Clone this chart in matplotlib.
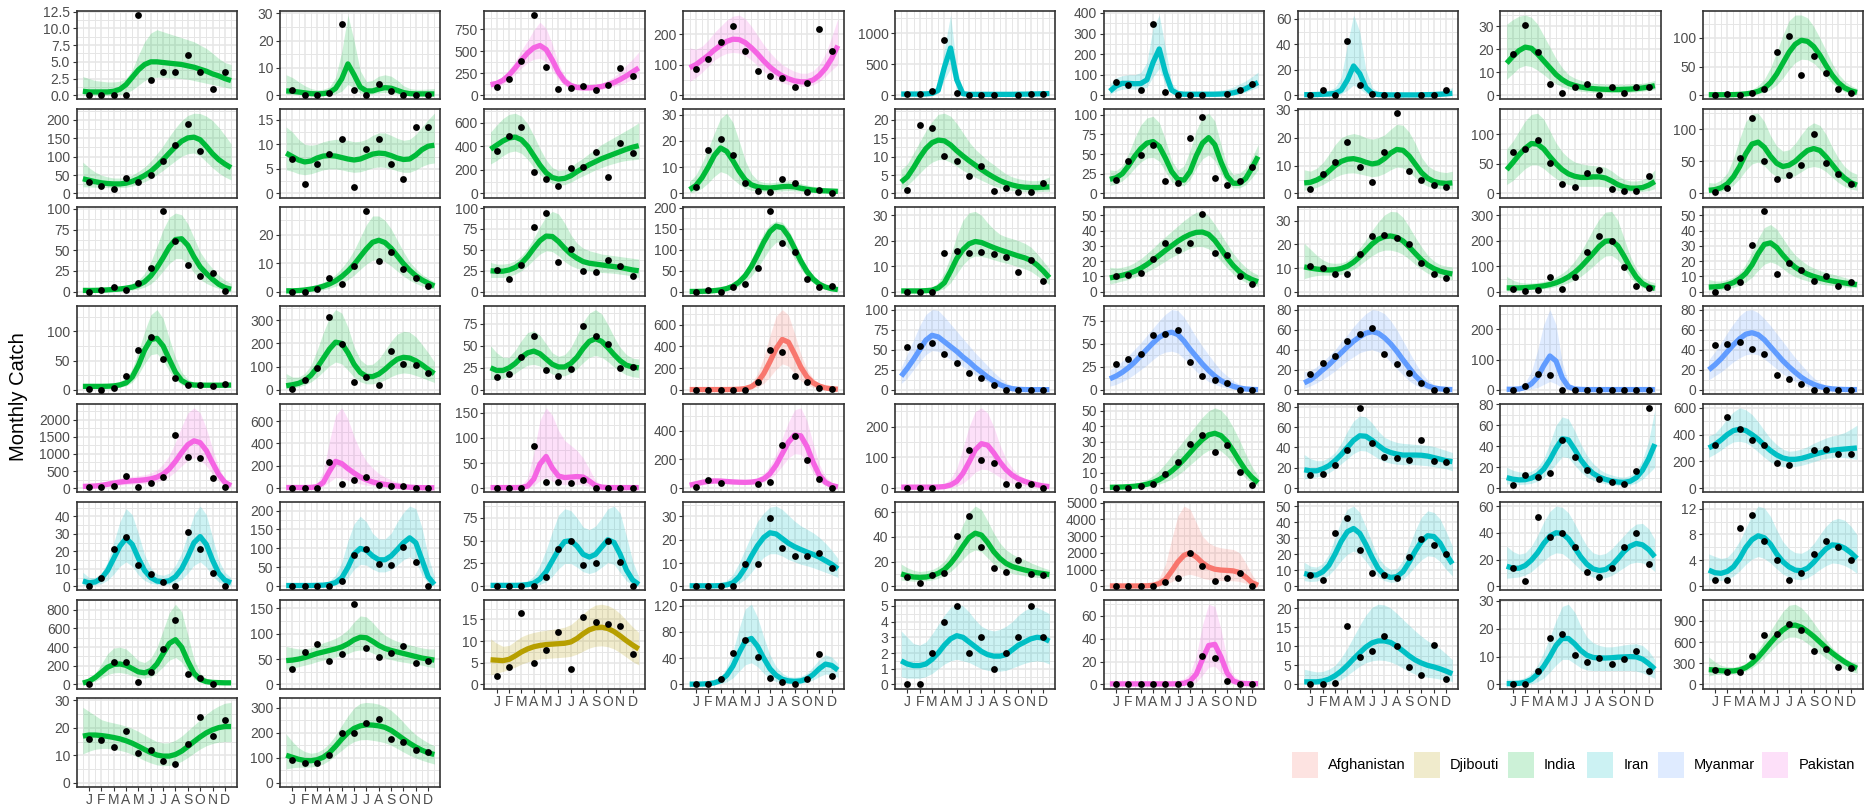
import numpy as np
import matplotlib
matplotlib.use("Agg")
import matplotlib.pyplot as plt
from matplotlib.patches import Rectangle

nan = float("nan")

month_labels = ["J", "F", "M", "A", "M", "J", "J", "A", "S", "O", "N", "D"]
countries = ["Afghanistan", "Djibouti", "India", "Iran", "Myanmar", "Pakistan"]
country_colors = ["#F8766D", "#B79F00", "#00BA38", "#00BFC4", "#619CFF", "#F564E3"]

panel_country = [
    "India", "India", "Pakistan", "Pakistan", "Iran", "Iran", "Iran", "India", "India",
    "India", "India", "India", "India", "India", "India", "India", "India", "India",
    "India", "India", "India", "India", "India", "India", "India", "India", "India",
    "India", "India", "India", "Afghanistan", "Myanmar", "Myanmar", "Myanmar", "Myanmar", "Myanmar",
    "Pakistan", "Pakistan", "Pakistan", "Pakistan", "Pakistan", "India", "Iran", "Iran", "Iran",
    "Iran", "Iran", "Iran", "Iran", "India", "Afghanistan", "Iran", "Iran", "Iran",
    "India", "India", "Djibouti", "Iran", "Iran", "Pakistan", "Iran", "Iran", "India",
    "India", "India",
]
panel_y_step = [
    2.5, 10, 250, 100, 500, 100, 20, 10, 50,
    50, 5, 200, 10, 5, 25, 10, 50, 50,
    25, 10, 25, 50, 10, 10, 10, 100, 10,
    50, 100, 25, 200, 25, 25, 20, 100, 20,
    500, 200, 50, 200, 100, 10, 20, 20, 200,
    10, 50, 25, 10, 20, 1000, 10, 20, 4,
    200, 50, 5, 40, 1, 20, 5, 10, 300,
    10, 100,
]

# monthly observations (12), fitted curve at half months 0.5..12.5 (25), ribbon low/high (25)
p01_pts = [0, 0, 0, 0, 12, 2.3, 3.5, 3.5, 6, 3.5, 1, 3.5]
p01_fit = [0.6, 0.5, 0.5, 0.5, 0.5, 0.6, 0.9, 1.6, 2.7, 3.8, 4.6, 5.0, 5.0, 4.9, 4.8, 4.7, 4.6, 4.4, 4.2, 3.9, 3.6, 3.2, 2.9, 2.5, 2.2]
p01_lo = [0, 0, 0, 0, 0, 0, 0.1, 0.3, 0.8, 1.5, 2.2, 2.6, 2.7, 2.7, 2.6, 2.6, 2.5, 2.4, 2.2, 2.0, 1.8, 1.6, 1.4, 1.2, 1.0]
p01_hi = [2.8, 2.5, 2.2, 2.1, 2.0, 2.0, 2.1, 2.5, 3.8, 6.0, 8.0, 9.3, 9.8, 9.5, 9.2, 8.9, 8.6, 8.3, 8.0, 7.5, 7.0, 6.3, 5.5, 4.9, 4.6]

p02_pts = [2, 0, 0, 1, 26, 2, 0, 4, 1.7, 0, 0, 0]
p02_fit = [1.6, 1.5, 1.2, 0.9, 0.6, 0.5, 0.6, 1.0, 2.5, 6.0, 11.5, 7.5, 3.0, 1.6, 1.6, 2.3, 2.8, 2.6, 1.8, 1.0, 0.6, 0.5, 0.5, 0.5, 0.5]
p02_lo = [0.3, 0.3, 0.2, 0.1, 0.1, 0.1, 0.1, 0.2, 0.5, 1.5, 4.0, 2.5, 0.8, 0.4, 0.5, 0.9, 1.0, 0.9, 0.5, 0.2, 0.1, 0.1, 0.1, 0.1, 0.1]
p02_hi = [7.5, 6.5, 5.0, 3.5, 2.5, 2.0, 2.2, 3.0, 6.5, 16.0, 29.4, 20.0, 9.0, 5.0, 5.5, 7.0, 7.5, 7.0, 5.5, 3.5, 2.5, 2.2, 2.2, 2.3, 2.5]

p03_pts = [94, 180, 394, 911, 322, 75, 79, 109, 60, 116, 307, 217]
p03_fit = [120, 135, 170, 230, 310, 400, 480, 540, 565, 520, 400, 260, 160, 110, 90, 85, 85, 90, 100, 120, 145, 180, 220, 265, 310]
p03_lo = [80, 95, 125, 175, 240, 310, 370, 410, 420, 380, 280, 180, 110, 75, 60, 55, 55, 60, 70, 85, 100, 120, 150, 180, 200]
p03_hi = [160, 170, 210, 290, 390, 510, 620, 740, 830, 760, 580, 360, 220, 150, 125, 120, 120, 125, 140, 170, 210, 270, 340, 410, 490]

p04_pts = [86, 117, 174, 226, 145, 78, 64, 55, 27, 41, 216, 145]
p04_fit = [90, 100, 115, 130, 148, 163, 176, 183, 182, 172, 155, 135, 112, 92, 76, 63, 54, 47, 44, 44, 50, 65, 88, 120, 162]
p04_lo = [45, 58, 75, 95, 115, 128, 137, 140, 138, 130, 115, 97, 78, 62, 50, 41, 35, 31, 29, 29, 34, 45, 62, 82, 100]
p04_hi = [155, 150, 160, 180, 205, 225, 245, 258, 262, 250, 225, 195, 165, 140, 118, 100, 88, 78, 72, 72, 80, 100, 135, 190, 250]

p05_pts = [16, 16, 69, 883, 43, 0, 0, 0, nan, 0, 16, 27]
p05_fit = [20, 20, 20, 20, 22, 30, 80, 450, 760, 250, 25, 15, 15, 15, 15, 15, 15, 15, 15, 17, 18, 20, 22, 25, 28]
p05_lo = [5, 5, 5, 5, 6, 8, 30, 250, 430, 110, 8, 4, 4, 4, 4, 4, 4, 4, 4, 5, 5, 6, 7, 8, 10]
p05_hi = [50, 45, 42, 42, 45, 60, 150, 750, 1290, 450, 60, 40, 38, 38, 38, 38, 38, 40, 42, 45, 48, 50, 55, 60, 65]

p06_pts = [66, 51, 24, 346, 14, 0, 0, 0, nan, 8, 25, 54]
p06_fit = [20, 45, 58, 58, 56, 57, 75, 160, 225, 110, 25, 8, 5, 5, 5, 5, 5, 5, 6, 8, 12, 20, 32, 48, 62]
p06_lo = [5, 20, 30, 32, 30, 30, 40, 90, 130, 50, 8, 1, 0, 0, 0, 0, 0, 0, 0, 1, 3, 8, 15, 28, 38]
p06_hi = [55, 85, 95, 100, 100, 110, 160, 330, 390, 230, 60, 25, 20, 20, 20, 20, 20, 22, 25, 30, 40, 55, 70, 90, 112]

p07_pts = [0, 4, 0, 42.6, 8.4, 1.3, 0, 0, nan, 0, 0, 4.2]
p07_fit = [0.5, 0.5, 0.6, 0.8, 1.0, 1.5, 4, 12, 23, 17, 6, 1.5, 0.6, 0.4, 0.3, 0.3, 0.3, 0.3, 0.3, 0.4, 0.5, 0.6, 0.8, 1.1, 1.5]
p07_lo = [0, 0, 0, 0, 0, 0.2, 1, 4, 8, 5, 1.5, 0.3, 0, 0, 0, 0, 0, 0, 0, 0, 0, 0, 0.1, 0.2, 0.3]
p07_hi = [3, 2.5, 2.5, 3, 4, 6, 14, 40, 63, 50, 20, 6, 3, 2, 2, 2, 2, 2, 2, 2, 2.5, 3, 3.5, 4.5, 6]

p08_pts = [18, 30.5, 19, 5, 1.2, 3.6, 5, 0, 3.6, 1.2, 3.6, 3.7]
p08_fit = [14, 17, 19.5, 21, 20.5, 18, 15, 12, 9, 6.8, 5.2, 4.3, 3.6, 3.2, 2.9, 2.7, 2.6, 2.5, 2.5, 2.6, 2.7, 2.9, 3.2, 3.6, 4.2]
p08_lo = [7, 9.5, 12, 13, 12.5, 11, 9, 6.8, 5, 3.7, 2.8, 2.2, 1.8, 1.5, 1.3, 1.2, 1.1, 1.1, 1.1, 1.2, 1.3, 1.5, 1.8, 2.1, 2.5]
p08_hi = [31, 33, 34.5, 35, 34, 31, 26, 21, 16, 12, 9, 7.5, 6.5, 5.8, 5.3, 5, 4.8, 4.7, 4.7, 4.7, 4.8, 5, 5.3, 5.8, 6.5]

p09_pts = [0, 1.5, 0, 4, 11.7, 75, 104, 35, 69, 38.6, 11.7, 4.7]
p09_fit = [1, 1, 1, 1, 1.2, 1.6, 2.5, 4, 7, 12, 22, 37, 56, 75, 89, 96, 94, 85, 70, 52, 35, 22, 13, 8, 5]
p09_lo = [0, 0, 0, 0, 0.1, 0.3, 0.7, 1.3, 2.5, 5, 10, 18, 30, 45, 57, 63, 62, 56, 45, 33, 21, 12, 6, 3, 1.5]
p09_hi = [5, 4, 3.5, 3.5, 4, 5, 7, 10, 17, 28, 48, 75, 105, 130, 140, 140, 135, 120, 100, 78, 55, 37, 25, 17, 12]

p10_pts = [31, 20.4, 13, 42.7, 31, 50.7, 88, 133, 187.6, 115.6, nan, nan]
p10_fit = [40, 36, 32, 29, 27, 26, 26, 28, 33, 40, 49, 60, 75, 92, 110, 127, 142, 151, 153, 146, 128, 108, 92, 80, 70]
p10_lo = [18, 18, 17, 17, 16, 16, 16, 17, 20, 25, 32, 40, 51, 63, 76, 89, 101, 108, 110, 102, 86, 70, 56, 45, 37]
p10_hi = [85, 70, 58, 50, 45, 42, 42, 44, 50, 60, 72, 88, 108, 130, 155, 178, 198, 212, 218, 217, 210, 198, 180, 158, 135]

p11_pts = [7, 2, 6, 8, 11, 1.3, 9, 11, 6, 3, 13.5, 13.5]
p11_fit = [8.2, 7.5, 6.8, 6.4, 6.6, 7.2, 7.6, 7.7, 7.6, 7.3, 7.0, 6.8, 7.0, 7.5, 8.0, 8.2, 8.1, 7.7, 7.2, 6.9, 7.0, 7.8, 8.9, 9.6, 9.8]
p11_lo = [4.8, 4.5, 4, 3.8, 4, 4.4, 4.8, 5, 5, 4.8, 4.5, 4.3, 4.4, 4.8, 5.2, 5.4, 5.3, 5.0, 4.6, 4.3, 4.3, 4.8, 5.5, 6, 6.2]
p11_hi = [13.5, 12.5, 11, 10, 9.8, 10, 10.5, 10.8, 11, 11, 10.8, 10.5, 10.6, 11, 11.8, 12.3, 12.3, 11.8, 11.2, 10.8, 11, 12, 13.5, 15, 16.3]

p12_pts = [360, 486, 564, 184, 120, 61, 215, 223, 349, 140, 430, 344]
p12_fit = [375, 410, 445, 470, 478, 455, 400, 320, 240, 175, 135, 122, 128, 150, 185, 215, 245, 270, 295, 315, 335, 355, 375, 392, 405]
p12_lo = [250, 280, 320, 350, 360, 340, 290, 220, 160, 115, 85, 70, 75, 95, 125, 150, 175, 200, 220, 240, 255, 270, 280, 285, 290]
p12_hi = [520, 580, 635, 670, 680, 655, 590, 490, 380, 285, 220, 195, 200, 225, 265, 300, 340, 375, 415, 445, 475, 505, 535, 565, 600]

p13_pts = [2.5, 16.5, 20.6, 14.5, 4, 1, 0.6, 5.5, 4, 0.5, 1.3, 0]
p13_fit = [1.5, 3, 6, 10, 14.5, 17.3, 16, 12.5, 8.5, 5.2, 3.3, 2.5, 2.2, 2.1, 2.3, 2.6, 2.7, 2.5, 2.0, 1.6, 1.3, 1.1, 1.0, 0.9, 0.8]
p13_lo = [0.3, 0.8, 2, 4, 6.5, 8.3, 7.5, 5.5, 3.5, 2, 1.2, 0.9, 0.8, 0.8, 0.9, 1, 1.1, 1, 0.8, 0.6, 0.5, 0.4, 0.3, 0.3, 0.3]
p13_hi = [4.5, 7, 11.5, 17, 23, 28.5, 30.5, 27, 20, 12.5, 7.5, 5, 4.2, 4, 4.3, 4.7, 4.8, 4.5, 3.8, 3.2, 2.7, 2.3, 2.1, 2.0, 2.0]

p14_pts = [1, 18.6, 17.9, 10.3, 8.7, 4.7, 7.6, 0.7, 1.6, 0.5, 0.3, 2.9]
p14_fit = [3.1, 4.5, 7, 9.8, 12.2, 13.8, 14.5, 14.3, 13.2, 11.6, 10.2, 8.9, 7.7, 6.5, 5.4, 4.4, 3.5, 2.8, 2.3, 1.9, 1.7, 1.6, 1.6, 1.7, 1.8]
p14_lo = [1.2, 2.2, 3.8, 5.5, 7.2, 8.5, 9.2, 9.2, 8.5, 7.4, 6.3, 5.3, 4.4, 3.6, 2.8, 2.1, 1.5, 1.1, 0.8, 0.6, 0.5, 0.5, 0.5, 0.6, 0.6]
p14_hi = [6.5, 8, 11, 14, 17, 19.5, 21.5, 21.8, 21, 19, 16.5, 14, 12, 10.5, 9, 7.8, 6.5, 5.3, 4.5, 4, 3.7, 3.5, 3.5, 3.8, 4.5]

p15_pts = [17, 41, 49, 62, 16, 13, 70.5, 96.6, 19.7, 11, 16, 33.8]
p15_fit = [18, 20, 25, 35, 47, 57, 64, 66, 60, 45, 28, 18, 17, 28, 48, 64, 71, 62, 40, 22, 13, 13, 19, 32, 47]
p15_lo = [10, 12, 16, 23, 32, 40, 45, 46, 41, 28, 15, 10, 10, 18, 32, 44, 49, 42, 25, 12, 7, 7, 11, 20, 30]
p15_hi = [30, 29, 35, 50, 70, 87, 96, 98, 90, 68, 42, 30, 35, 55, 80, 97, 102, 92, 62, 35, 24, 26, 32, 45, 62]

p16_pts = [1.5, 7.1, 11.2, 18.6, 9.6, 4, 15, 28.8, 8, 4.7, 3.1, 2.4]
p16_fit = [3.8, 4, 4.8, 6, 8, 10, 11.5, 12.3, 12.5, 12, 11.2, 10.6, 11, 12.5, 14.5, 15.8, 15.5, 13.5, 10.5, 7.5, 5.5, 4.3, 3.8, 3.6, 3.8]
p16_lo = [1.2, 1.5, 2.2, 3.2, 4.5, 5.8, 6.8, 7.3, 7.4, 7, 6.5, 6, 6.3, 7.2, 8.5, 9.5, 9.2, 7.8, 5.7, 3.8, 2.6, 2, 1.7, 1.6, 1.6]
p16_hi = [8.5, 8, 9, 11, 14, 17.5, 20, 21, 21.5, 21, 20, 19.5, 20, 21, 23, 24.8, 24.5, 22, 18, 13, 10, 8.5, 7.8, 7.5, 8]

p17_pts = [69, 74.7, 90, 51.6, 16, 11, 34.6, 39.6, 7, 5, 5, 30]
p17_fit = [40, 52, 65, 76, 84, 83, 75, 62, 50, 40, 33, 29, 27, 27, 28, 28, 26, 21, 15, 11, 9, 9, 10, 14, 20]
p17_lo = [15, 22, 32, 42, 48, 48, 42, 33, 25, 19, 15, 13, 12, 12, 12, 12, 11, 8, 5, 4, 3, 3, 3.5, 5, 8]
p17_hi = [75, 88, 105, 122, 133, 135, 125, 105, 85, 70, 60, 53, 50, 48, 47, 46, 44, 38, 30, 24, 21, 21, 23, 28, 40]

p18_pts = [3, 8, 55, 118, 51, 22, 29, 45, 92.7, 47, 30, 14.5]
p18_fit = [5, 6, 9, 15, 26, 42, 62, 77, 80, 72, 58, 47, 42, 44, 50, 59, 67, 70, 67, 57, 45, 33, 24, 17, 13]
p18_lo = [1, 2, 3.5, 7, 13, 23, 36, 46, 49, 43, 33, 26, 23, 24, 28, 34, 40, 42, 40, 34, 25, 17, 11, 7, 5]
p18_hi = [17, 16, 21, 32, 55, 85, 112, 124, 125, 112, 90, 74, 66, 68, 78, 92, 104, 110, 106, 92, 72, 55, 42, 34, 30]

p19_pts = [0, 2, 5.2, 2, 10, 29, 97, 61, 32, 19, 23, 1]
p19_fit = [1.5, 1.5, 1.6, 1.8, 2.2, 2.7, 3.3, 4.2, 5.5, 8, 12, 19, 29, 41, 54, 63, 64, 56, 42, 30, 22, 15, 9, 5, 3]
p19_lo = [0.2, 0.3, 0.4, 0.5, 0.6, 0.8, 1, 1.4, 2, 3.2, 5.5, 9.5, 16, 25, 34, 40, 40, 33, 23, 15, 10, 6.5, 4, 2, 0.8]
p19_hi = [5.5, 5, 4.8, 4.8, 5, 5.5, 6.5, 8, 10, 14, 22, 36, 55, 75, 90, 95, 93, 82, 65, 48, 37, 28, 20, 14, 10]

p20_pts = [0, 0, 0.9, 4.9, 2.7, 9, 28.1, 10.9, 14, 7.9, 4.9, 1.9]
p20_fit = [0.3, 0.3, 0.4, 0.6, 0.9, 1.3, 1.9, 2.7, 3.8, 5.3, 7.2, 9.5, 12.3, 15, 17.3, 18, 17.2, 15.2, 12.5, 9.8, 7.5, 5.6, 4.1, 3, 2]
p20_lo = [0, 0, 0, 0.1, 0.2, 0.4, 0.7, 1.2, 1.9, 2.9, 4.2, 5.8, 7.8, 9.7, 11, 11.3, 10.5, 9, 7.2, 5.5, 4, 2.9, 2, 1.4, 0.9]
p20_hi = [1.5, 1.3, 1.3, 1.5, 2, 2.5, 3.3, 4.5, 6, 8.3, 11, 14.5, 19, 23.5, 26.5, 26.5, 25, 22, 18, 14, 10.5, 8, 6, 4.7, 3.5]

p21_pts = [25.6, 14.8, 32, 77, 94, 36, 51, 25, 23, 38, 31, 19]
p21_fit = [25, 24.5, 24.5, 26, 29, 34, 42, 52, 61, 66.5, 66, 60, 52, 45, 40, 36, 34, 33, 32, 31, 30, 29, 27.5, 26, 25]
p21_lo = [17, 17, 17, 18.5, 21, 25, 31, 38, 45, 49, 48, 43, 36, 31, 28, 26, 25, 24, 23, 22.5, 22, 21, 20, 18.5, 17]
p21_hi = [35, 33, 33, 34, 37, 43, 52, 64, 78, 90, 96, 93, 82, 68, 58, 52, 49, 47, 45, 44, 43, 42, 41, 40, 39]

p22_pts = [0, 4.7, 0, 11.8, 17.4, 56, 191, 117, 95, 30, 11, 14]
p22_fit = [0.5, 0.6, 0.9, 1.5, 2.5, 4.3, 7.5, 13, 23, 38, 60, 88, 118, 143, 156, 152, 132, 103, 73, 48, 30, 18, 11, 7, 5]
p22_lo = [0, 0.1, 0.3, 0.6, 1.2, 2.3, 4.2, 7.5, 13, 23, 37, 56, 80, 102, 118, 117, 103, 79, 55, 35, 21, 12, 7, 4, 2.5]
p22_hi = [1.5, 1.5, 2, 3, 5, 8, 13, 21, 33, 51, 78, 110, 140, 160, 168, 165, 148, 118, 87, 60, 39, 25, 16, 11, 8]

p23_pts = [0, 0, 0, 15.1, 16, 15.1, 15.5, 14.9, 13.8, 7.8, 12.3, 4.1]
p23_fit = [0.3, 0.3, 0.3, 0.3, 0.4, 0.6, 1.5, 3.5, 8, 13, 16.5, 18.8, 19.7, 19.3, 18.3, 17.3, 16.4, 15.6, 14.8, 14, 13.3, 12.3, 10.5, 8.2, 5.5]
p23_lo = [0, 0, 0, 0, 0, 0.1, 0.4, 1.3, 3.5, 7, 10.5, 13, 14, 13.8, 13.3, 12.5, 11.8, 11.2, 10.5, 9.8, 9, 8, 6.3, 4.5, 2.8]
p23_hi = [1.2, 1.1, 1, 1, 1.2, 1.8, 3.5, 7.5, 14, 22, 28, 31, 31.5, 30, 27, 24.5, 22.5, 21.5, 20.8, 20, 19, 17.5, 15, 12, 9]

p24_pts = [10.1, 11, 12, 21.5, 32.1, 27, 32, 51, 25, 24, 10.5, 5]
p24_fit = [9, 9.8, 10.7, 11.8, 13.3, 15.3, 17.8, 20.7, 23.8, 27, 30, 33, 35.5, 37.5, 38.8, 39, 37.5, 33.5, 28, 22, 17, 13, 10, 8, 6.5]
p24_lo = [5, 6, 7, 8, 9.5, 11, 13, 15, 17.5, 20, 22.5, 24.5, 26.5, 28.5, 29.5, 29.5, 28, 24.5, 20, 15.5, 11.5, 8.5, 6.2, 4.5, 3.5]
p24_hi = [16, 15.5, 16, 17, 19, 21.5, 25, 28.5, 32.5, 36, 39.5, 43, 46.5, 49.5, 52, 52.5, 49.5, 44, 37.5, 31, 25, 20, 16, 13, 11]

p25_pts = [11, 10, 7.4, 7.4, 16.1, 23.6, 24.2, 22.6, 20, 12, 7.4, 5.7]
p25_fit = [10.5, 10, 9.6, 9.3, 9.2, 9.3, 9.8, 10.8, 12.5, 14.8, 17.5, 20.2, 22.2, 23.3, 23.6, 23, 21.5, 19, 16.2, 13.5, 11.3, 9.8, 8.7, 8, 7.5]
p25_lo = [5.5, 6.3, 6.8, 7, 7, 7, 7.3, 8.2, 9.5, 11.3, 13.3, 15.2, 16.8, 17.6, 17.6, 17, 15.8, 13.8, 11.5, 9.5, 7.8, 6.7, 6, 5.5, 5]
p25_hi = [20.5, 18, 15.5, 13.5, 12.3, 12, 12.2, 13.2, 15.5, 18.5, 22, 26, 29.5, 32.5, 34, 33.8, 31.5, 27.5, 23, 19, 15.5, 13, 11.5, 10.8, 10.5]

p26_pts = [11.6, 2.6, 7.8, 59.5, 11.6, 57, 155, 220, 199, 98, 20.7, 15.5]
p26_fit = [15, 15, 15, 16, 18, 20, 23, 28, 35, 45, 58, 75, 97, 123, 150, 178, 198, 200, 180, 140, 95, 57, 32, 19, 13]
p26_lo = [3, 5, 6.5, 8, 9, 10, 12, 15, 20, 26, 35, 46, 60, 79, 100, 122, 140, 142, 125, 92, 58, 31, 16, 8, 4]
p26_hi = [60, 45, 37, 34, 34, 36, 40, 47, 58, 72, 92, 120, 155, 200, 245, 285, 312, 315, 280, 210, 140, 90, 58, 42, 35]

p27_pts = [0, 3, 6.5, 30.6, 52.6, 11.9, 18.5, 14.2, 6.9, 10.6, 3.4, 6.5]
p27_fit = [3, 3.2, 3.6, 4.5, 6, 8.5, 12, 17.5, 25, 31, 32, 29, 24, 19.5, 16, 13.5, 11.5, 10, 8.8, 7.8, 7, 6.3, 5.7, 5.1, 4.6]
p27_lo = [0.8, 1, 1.3, 1.9, 2.8, 4.2, 6.3, 9.5, 14, 18, 19.5, 18, 15, 12, 9.8, 8.2, 7, 6, 5.2, 4.5, 4, 3.5, 3.1, 2.8, 2.5]
p27_hi = [8, 7, 7, 8, 9.5, 12.5, 18, 26, 35, 42, 44, 41, 35, 29, 24, 20.5, 17.5, 15.5, 13.8, 12.5, 11.5, 10.5, 9.3, 8, 7]

p28_pts = [2.3, 0, 2.8, 23, 68, 90, 53, 20, 8, 8, 6.8, 10.8]
p28_fit = [6, 6, 6, 6, 6.2, 6.8, 8.5, 12, 22, 42, 68, 86, 88, 75, 52, 30, 16, 10, 8.3, 8, 8, 8, 8, 8, 8.2]
p28_lo = [3, 3, 3, 3, 3.2, 3.7, 4.8, 7, 13, 26, 45, 60, 62, 50, 32, 17, 9, 5.5, 4.7, 4.6, 4.6, 4.6, 4.6, 4.6, 4.7]
p28_hi = [10, 10, 10, 10, 10.3, 11.5, 14, 20, 36, 65, 100, 128, 137, 122, 88, 55, 30, 18, 13, 12, 12, 12, 12, 12.3, 13]

p29_pts = [4, 43, 96, 314, 196, 35, 56, 20, 165, 110, 106, 71]
p29_fit = [18, 22, 28, 40, 62, 95, 135, 175, 205, 200, 160, 110, 75, 58, 57, 68, 88, 112, 132, 140, 137, 125, 108, 88, 70]
p29_lo = [5, 8, 13, 21, 34, 53, 78, 103, 120, 112, 85, 55, 35, 26, 26, 32, 43, 57, 68, 73, 70, 62, 52, 42, 32]
p29_hi = [70, 55, 55, 70, 105, 170, 245, 310, 345, 330, 270, 185, 130, 108, 110, 133, 170, 210, 240, 252, 248, 228, 195, 160, 120]

p30_pts = [15, 18, 37, 61, 22, 16, 24, 72, 61, 52, 25, 26]
p30_fit = [25, 22, 22, 25, 30, 37, 42, 44, 41, 35, 29, 26, 26, 30, 37, 47, 55, 58, 55, 48, 40, 33, 28, 26, 25]
p30_lo = [12, 12, 13, 15, 19, 24, 28, 29, 27, 22, 18, 16, 16, 19, 24, 31, 37, 39, 37, 32, 26, 21, 17, 15, 14]
p30_hi = [50, 42, 37, 37, 45, 56, 65, 67, 62, 52, 42, 38, 40, 48, 62, 77, 87, 91, 86, 74, 60, 48, 40, 36, 35]

p31_pts = [0, 0, 0, 0, 0, 73, 366, 350, 125, 73, 18, 6]
p31_fit = [3, 3, 3, 3, 3, 3, 3, 4, 6, 12, 30, 70, 150, 260, 380, 465, 440, 330, 210, 120, 65, 35, 18, 10, 6]
p31_lo = [0, 0, 0, 0, 0, 0, 0, 0.5, 1, 3, 9, 25, 60, 120, 190, 240, 220, 150, 85, 45, 22, 10, 5, 2, 1]
p31_hi = [10, 10, 10, 10, 10, 10, 11, 13, 18, 30, 65, 150, 300, 500, 680, 740, 690, 520, 330, 190, 105, 60, 35, 22, 15]

p32_pts = [53, 55, 58, 45, 33, 21, 15.4, 6.3, 0, 0, 0, 0]
p32_fit = [17, 27, 38, 50, 62, 68, 66, 60, 54, 48, 41, 35, 28, 22, 16, 11, 6.5, 3.3, 1.5, 0.7, 0.4, 0.3, 0.3, 0.3, 0.3]
p32_lo = [8, 15, 25, 35, 44, 49, 48, 43, 38, 34, 29, 24, 19, 14, 10, 6.5, 3.5, 1.5, 0.5, 0.1, 0, 0, 0, 0, 0]
p32_hi = [28, 45, 62, 80, 94, 100, 99, 91, 82, 73, 64, 55, 46, 38, 30, 22, 15, 9, 5, 3, 2, 1.5, 1.4, 1.4, 1.4]

p33_pts = [28, 33, 39, 60, 60.7, 65, 30, 15.4, 10.3, 8, 0, 0]
p33_fit = [12, 15, 19, 24, 30, 37, 44, 51, 57, 61, 62.5, 60, 53, 44, 36, 28, 21, 15, 10, 6.5, 3.8, 2, 1, 0.5, 0.3]
p33_lo = [4, 6, 9, 12.5, 17, 22, 27, 33, 38, 41, 42, 40, 34, 27, 20, 14, 9, 6, 3.5, 2, 0.8, 0.3, 0.1, 0, 0]
p33_hi = [22, 26, 31, 37, 44, 51, 59, 67, 75, 82, 87, 86, 79, 68, 57, 47, 38, 29, 21, 15, 10, 6, 3.5, 2, 1.5]

p34_pts = [15.4, 26.8, 33.7, 49, 56, 61.8, 36, 25.5, 17, 7.2, 0, 0]
p34_fit = [7, 10, 14.5, 20, 25, 31, 37, 43, 48.5, 53, 56.5, 58, 56.5, 52, 46, 38.5, 30, 22, 14, 8, 4, 2, 1, 0.5, 0.3]
p34_lo = [1.5, 4, 7, 10.5, 14.5, 19, 24, 29, 33, 37, 39, 40, 38, 34, 28, 21, 15, 9, 5, 2, 0.6, 0.1, 0, 0, 0]
p34_hi = [18, 19, 23, 28, 34, 40, 48, 55, 63, 70, 76, 80, 79, 76, 69, 60, 49, 38, 27, 17, 10, 5, 2.8, 2, 1.5]

p35_pts = [0, 12.4, 51, 50, 0, 0, 0, 0, 0, 0, 0, 0]
p35_fit = [2, 2, 3, 8, 20, 42, 80, 112, 95, 40, 10, 3, 1.5, 1, 1, 1, 1, 1, 1, 1, 1, 1, 1, 1, 1]
p35_lo = [0, 0, 0, 1, 3, 8, 18, 28, 20, 6, 1, 0, 0, 0, 0, 0, 0, 0, 0, 0, 0, 0, 0, 0, 0]
p35_hi = [12, 10, 12, 25, 60, 130, 215, 265, 215, 90, 25, 10, 8, 8, 8, 8, 8, 8, 8, 8, 8, 8, 8, 8, 8]

p36_pts = [45, 45.5, 48, 41, 36, 14.9, 10.6, 6, 0, 0, 0, 0]
p36_fit = [20, 25, 31, 38, 45, 51, 55.5, 57, 55, 50, 43, 36, 29, 23, 17.5, 12.5, 8.5, 5.5, 3.3, 1.8, 1, 0.6, 0.4, 0.3, 0.3]
p36_lo = [10, 14, 18, 23, 28, 32, 35, 36, 35, 31, 26, 21, 16, 12, 8.5, 5.5, 3.3, 1.8, 0.9, 0.4, 0.1, 0, 0, 0, 0]
p36_hi = [30, 38, 47, 57, 66, 74, 79, 80, 77, 71, 64, 56, 48, 40, 32, 25, 18, 12, 7.5, 4.5, 2.8, 1.8, 1.2, 1, 1]

p37_pts = [19, 19, 67, 354, 19, 153, 325, 1550, 919, 880, 287, 19]
p37_fit = [50, 55, 62, 80, 110, 145, 175, 198, 212, 225, 242, 270, 320, 410, 560, 780, 1040, 1270, 1385, 1330, 1100, 740, 400, 170, 70]
p37_lo = [15, 18, 22, 32, 48, 70, 90, 105, 115, 122, 132, 150, 180, 240, 340, 480, 650, 810, 890, 830, 650, 410, 200, 70, 25]
p37_hi = [120, 130, 145, 170, 210, 250, 290, 320, 340, 360, 390, 440, 530, 700, 950, 1350, 1800, 2200, 2350, 2200, 1750, 1150, 620, 260, 130]

p38_pts = [0, 0, 0, 232, 41, 70.6, 97, 26.5, 14.7, 20.6, 0, 0]
p38_fit = [5, 5, 5, 5, 6, 12, 50, 150, 240, 220, 175, 135, 100, 75, 55, 42, 33, 25, 18, 12, 8, 5, 4, 3, 3]
p38_lo = [0, 0, 0, 0, 0.5, 2, 15, 55, 95, 90, 70, 52, 38, 27, 19, 14, 10, 7, 5, 3, 2, 1, 0.5, 0.3, 0.2]
p38_hi = [15, 15, 15, 15, 18, 40, 150, 420, 650, 720, 620, 460, 335, 240, 180, 130, 100, 75, 55, 40, 28, 20, 15, 12, 10]

p39_pts = [0, 0, 0, 83, 12.5, 12.5, 10, 15.5, 0, 0, 0, 0]
p39_fit = [1, 1, 1, 1, 1, 1.3, 4, 18, 48, 63, 40, 24, 21, 22, 23, 22, 14, 5, 2, 1, 1, 1, 1, 1, 1]
p39_lo = [0, 0, 0, 0, 0, 0.3, 1, 5, 15, 22, 14, 8, 7, 7.5, 7.5, 6.5, 3.5, 1, 0.3, 0.1, 0, 0, 0, 0, 0]
p39_hi = [3, 3, 3, 3, 3.5, 6, 20, 70, 135, 160, 145, 115, 95, 85, 75, 60, 38, 15, 6, 3.5, 3, 3, 3, 3, 3]

p40_pts = [4.7, 56, 32.6, nan, nan, 28, 39.5, 300, 365, 195, 60, 0]
p40_fit = [20, 30, 40, 47, 50, 49, 46, 43, 41, 40, 42, 48, 65, 100, 160, 240, 320, 370, 365, 290, 180, 90, 40, 18, 8]
p40_lo = [8, 14, 22, 30, 34, 34, 32, 29, 27, 26, 27, 31, 42, 64, 100, 155, 210, 240, 235, 180, 105, 45, 16, 6, 2]
p40_hi = [40, 52, 60, 64, 66, 65, 63, 60, 58, 58, 62, 72, 100, 155, 240, 350, 460, 545, 560, 470, 310, 165, 80, 40, 25]

p41_pts = [0, 0, 0, nan, nan, 125, 92, 83, 12, 10, 13, 0]
p41_fit = [3, 3, 3, 3, 3, 3, 3.5, 5, 10, 22, 48, 85, 125, 145, 140, 115, 85, 60, 42, 30, 22, 16, 11, 7, 5]
p41_lo = [0, 0, 0, 0, 0, 0, 0.3, 1, 2.5, 6, 16, 32, 52, 62, 60, 48, 35, 24, 16, 11, 7.5, 5, 3, 2, 1.5]
p41_hi = [8, 8, 8, 8, 8, 8, 9, 14, 30, 65, 130, 200, 250, 262, 245, 200, 140, 95, 65, 45, 32, 23, 17, 13, 10]

p42_pts = [0, 0, 1.3, 2.6, 9.4, 17.1, 28.6, 34.2, 23.5, 27.6, 10.5, 1.9]
p42_fit = [0.5, 0.6, 0.7, 0.9, 1.2, 1.7, 2.5, 3.7, 5.5, 8, 11, 14.5, 18.5, 23, 27.5, 31.5, 34.5, 35.5, 34, 30, 24, 17.5, 11.5, 7, 3.5]
p42_lo = [0, 0, 0.1, 0.2, 0.3, 0.6, 1, 1.6, 2.6, 4, 6, 8.5, 11.5, 15, 18.5, 22, 24.5, 25.5, 24, 20.5, 15.5, 10.5, 6.5, 3.5, 1.5]
p42_hi = [1.5, 1.5, 1.7, 2.2, 3, 4, 5.5, 8, 11.5, 16, 21, 26, 31, 36, 41, 46, 50, 52, 50.5, 46, 39, 31, 22, 14, 8]

p43_pts = [13, 14, 22.3, 37.9, 79, 44, 30.4, 30, 27.8, 47, 26.5, 25.6]
p43_fit = [18, 17, 17, 19, 22, 27, 33, 40, 47, 51.5, 51, 47, 42, 37.5, 35, 33.5, 32.5, 32.5, 32.5, 32.3, 31.5, 30, 28.5, 27, 26]
p43_lo = [9, 10, 11, 12.5, 15, 19, 24, 29, 34, 37, 36.5, 33, 29, 26, 24.5, 23.5, 23, 23, 23, 22.5, 22, 21, 20, 19, 17]
p43_hi = [33, 29, 27, 27, 30, 35, 44, 56, 66, 71, 70, 64, 56, 50, 47, 45, 44, 43.5, 43, 42.5, 42, 41, 39, 37, 35]

p44_pts = [3.1, 12.2, 11, 14.7, 45.6, 30, 17.5, 9, 6, 3.75, 16, 76.6]
p44_fit = [10, 8.5, 7.8, 8, 9.5, 12.5, 18, 27, 38, 47, 46, 37, 27, 19.5, 14, 10.5, 8.3, 6.8, 5.8, 5.5, 6.5, 10, 17, 28, 42]
p44_lo = [4, 3.5, 3.3, 3.7, 4.5, 6.5, 10, 16, 23, 30, 29, 22, 15.5, 10.5, 7.5, 5.5, 4.2, 3.3, 2.7, 2.5, 3, 4.8, 8.5, 14, 20]
p44_hi = [20, 17, 15.5, 15, 16, 20, 28, 43, 60, 68, 66, 55, 42, 31, 23.5, 18, 14.5, 12.5, 11, 10.5, 12, 17, 27, 45, 75]

p45_pts = [321, 532, 441, 360, 319, 189, 176, nan, 284, 292, 257, 255]
p45_fit = [300, 325, 360, 400, 430, 440, 430, 400, 365, 320, 280, 248, 225, 215, 215, 222, 235, 250, 263, 275, 283, 288, 292, 296, 300]
p45_lo = [230, 255, 285, 320, 345, 350, 340, 310, 270, 230, 195, 172, 160, 158, 162, 170, 183, 198, 212, 222, 228, 230, 228, 222, 215]
p45_hi = [390, 410, 460, 520, 570, 600, 585, 550, 495, 430, 370, 325, 290, 275, 280, 292, 310, 335, 355, 375, 390, 400, 415, 440, 470]

p46_pts = [0, 5, 21.6, 28.5, 12, 7, 2.3, 0, 31, 21.6, 7.5, 0]
p46_fit = [3, 2, 2.5, 4.5, 9, 16, 23, 27.5, 24, 16, 9, 5, 3, 2.6, 3.2, 5.5, 10, 17, 25, 28.5, 24, 15, 7.5, 3.5, 2]
p46_lo = [0.5, 0.5, 0.7, 1.5, 3.5, 7, 11.5, 14, 11.5, 6.5, 3.3, 1.7, 1, 0.8, 1, 2, 4, 7.5, 12, 14, 11, 6, 2.5, 0.8, 0.3]
p46_hi = [8, 5, 5, 7.5, 14, 25, 37, 44.5, 41, 30, 18, 10.5, 7, 6.3, 7.5, 12, 19, 30, 41, 46, 41, 28, 15, 8, 5]

p47_pts = [0, 0, 0, 0, 15, 82, 98, 60, 57, 105, 63, 0]
p47_fit = [2, 2, 2, 2, 2, 2.5, 3, 5, 10, 22, 50, 85, 100, 95, 80, 70, 70, 80, 97, 115, 128, 115, 70, 25, 5]
p47_lo = [0, 0, 0, 0, 0, 0.2, 0.5, 1.2, 3, 8, 22, 45, 58, 56, 45, 38, 38, 44, 56, 70, 78, 65, 30, 8, 1]
p47_hi = [6, 6, 6, 6, 6, 7, 9, 14, 30, 62, 120, 165, 185, 170, 140, 125, 125, 140, 170, 195, 212, 205, 155, 80, 25]

p48_pts = [0, 0, 0, 0, 10, 41, 50, 23, 25, 49.5, 27, 0]
p48_fit = [1, 1, 1, 1, 1, 1.2, 1.8, 3.5, 8, 16, 28, 40, 49, 50, 44, 35, 32, 35, 43, 51, 48, 35, 18, 7, 2]
p48_lo = [0, 0, 0, 0, 0, 0, 0.2, 0.7, 2, 5, 11, 19, 25, 25, 21, 16, 14, 16, 21, 26, 24, 15, 6, 1.5, 0.3]
p48_hi = [4, 4, 4, 4, 4, 4.5, 6, 11, 23, 40, 60, 78, 85, 83, 75, 65, 62, 66, 75, 85, 88, 80, 55, 28, 10]

p49_pts = [0, 0, 0, 0, 9.7, 9.7, 29.5, 16.5, 13, 13, 14.5, 8]
p49_fit = [0.2, 0.2, 0.2, 0.2, 0.2, 0.3, 0.6, 1.5, 4, 8, 13, 17.5, 21, 23, 22.5, 20.5, 18.5, 17, 15.8, 14.7, 13.7, 12.5, 11, 9.5, 7.5]
p49_lo = [0, 0, 0, 0, 0, 0, 0.1, 0.3, 1.2, 3, 6, 9.5, 12.5, 14, 14, 13, 11.5, 10.5, 9.5, 8.8, 8, 7, 6, 5, 3.8]
p49_hi = [1, 1, 1, 1, 1, 1.3, 2.5, 5, 10, 16, 22, 28, 31.5, 34, 34.5, 33, 30.5, 28, 26, 24.5, 23, 21, 18.5, 15.5, 12]

p50_pts = [7.7, 2.7, 9.1, 10.7, 40.5, 57.3, 31.5, 15.2, 11.7, 21, 10.1, 9.1]
p50_fit = [10, 8.5, 7.5, 7.2, 7.5, 8.5, 10.5, 13.5, 18.5, 25, 32.5, 39.5, 43, 41.5, 35.5, 28, 22.5, 18.5, 16, 14.5, 13.2, 12, 11, 10.3, 9.5]
p50_lo = [5, 4.5, 4.2, 4.2, 4.5, 5.2, 6.5, 8.5, 12, 16.5, 22, 27, 29.5, 28, 23, 18, 14.5, 12, 10.5, 9.5, 8.5, 7.8, 7.2, 6.8, 6.3]
p50_hi = [18, 15, 13, 12, 12.5, 13.5, 16, 20.5, 28, 38, 50, 60, 65, 62, 53, 43, 35, 29.5, 26, 23.5, 21.5, 19, 17, 15, 13.5]

p51_pts = [0, 0, 0, 0, 275, 510, 2000, 1196, 333, 510, 824, 40]
p51_fit = [20, 20, 20, 20, 20, 22, 30, 60, 160, 400, 900, 1450, 1850, 2000, 1750, 1400, 1150, 1020, 970, 950, 920, 820, 550, 220, 60]
p51_lo = [0, 0, 0, 0, 0, 1, 3, 10, 40, 110, 270, 480, 650, 720, 620, 480, 400, 360, 345, 340, 330, 290, 180, 60, 10]
p51_hi = [60, 60, 60, 60, 60, 70, 100, 200, 520, 1300, 2800, 4200, 4800, 4600, 3800, 3000, 2600, 2400, 2300, 2250, 2200, 2000, 1400, 700, 200]

p52_pts = [7.2, 3.9, 33, 42.4, 22.7, 8.2, 7.2, 4.9, 18, 29.5, 25.6, 20]
p52_fit = [8, 7, 7, 9, 13, 20, 28, 34, 36, 33, 26, 18, 11, 7, 5.5, 6, 9, 15, 22, 28, 31.5, 31, 27, 20, 14]
p52_lo = [3.5, 3, 3.2, 4.5, 7, 11, 16, 20, 22, 20, 15.5, 10, 6, 3.5, 2.5, 2.8, 4.5, 8, 12.5, 16.5, 19, 18.5, 15.5, 10.5, 6.5]
p52_hi = [15, 12.5, 12, 14, 20, 30, 41, 48, 50, 46, 37, 27, 18, 13, 10.5, 11, 16, 25, 35, 43, 47, 46, 42, 34, 25]

p53_pts = [13.3, 4.1, 51.5, 37, 40, 29, 10.8, 7, 13.5, 29.6, 40, 16.6]
p53_fit = [15, 13.5, 13.5, 15.5, 19.5, 25, 32, 37.5, 40, 39.5, 35.5, 29, 22, 16.5, 13, 11.8, 12.5, 15.5, 20.5, 26, 30, 32, 31, 27.5, 22]
p53_lo = [6, 6.5, 7, 8.5, 11, 15, 19, 23, 25, 24.5, 21, 16.5, 12, 9, 6.8, 6, 6.5, 8, 11, 14, 17, 18, 17.5, 15, 11]
p53_hi = [30, 26, 24, 25, 30, 38, 48, 56, 60, 59, 55, 47, 38, 30, 25, 23.5, 24.5, 28, 33, 38, 43, 46.5, 47, 43, 35]

p54_pts = [1, 1, 9, 11, 7, 4, 1, 2, 5, 7, 6, 4]
p54_fit = [2.5, 2.1, 2, 2.3, 3, 4.3, 6, 7.2, 7.8, 7.5, 6.5, 5, 3.8, 3, 2.5, 2.4, 2.8, 3.7, 4.8, 5.8, 6.4, 6.3, 5.9, 5.2, 4.3]
p54_lo = [1, 0.9, 0.9, 1.1, 1.6, 2.4, 3.4, 4.2, 4.6, 4.3, 3.6, 2.7, 1.9, 1.4, 1.1, 1.0, 1.3, 1.9, 2.6, 3.2, 3.6, 3.5, 3.2, 2.7, 2]
p54_hi = [5, 4.6, 4.3, 4.5, 5.5, 7, 9, 11, 12.4, 12.1, 10.8, 8.7, 6.9, 5.8, 5.2, 5.1, 5.6, 6.6, 8, 9.3, 10.2, 10.5, 10.2, 9.3, 8]

p55_pts = [10, nan, 245, 240, 25, 130, 375, 690, 110, 70, 10, nan]
p55_fit = [15, 35, 75, 130, 185, 215, 220, 205, 170, 135, 125, 150, 220, 330, 440, 480, 400, 250, 120, 55, 30, 22, 20, 18, 18]
p55_lo = [5, 15, 35, 70, 105, 125, 128, 118, 95, 73, 68, 82, 125, 190, 260, 290, 240, 140, 60, 25, 13, 9, 8, 7, 7]
p55_hi = [35, 60, 120, 220, 330, 390, 400, 380, 320, 255, 235, 280, 400, 580, 770, 860, 780, 530, 270, 120, 65, 45, 40, 38, 38]

p56_pts = [30, 63, 80, 47, 60.7, 158, 71.8, 54, 62, 75, 41.7, 47]
p56_fit = [47, 48, 50, 53, 57, 61, 64, 67, 70, 74, 80, 88, 93, 92, 85, 77, 71, 67, 64, 61, 58, 55, 52, 50, 48]
p56_lo = [30, 32, 35, 38, 41, 45, 48, 51, 54, 57, 61, 66, 68, 67, 62, 56, 52, 49, 46, 44, 42, 40, 38, 35, 33]
p56_hi = [75, 72, 70, 70, 72, 77, 82, 86, 91, 98, 108, 123, 135, 133, 122, 108, 97, 90, 85, 81, 78, 75, 72, 70, 70]

p57_pts = [2, 4, 16.5, 5, 8, 12, 3.5, 15.5, 14.5, 14, 13.5, 7]
p57_fit = [5.7, 5.6, 5.5, 5.8, 6.6, 7.5, 8.2, 8.7, 9, 9.2, 9.3, 9.4, 9.5, 9.8, 10.6, 11.7, 12.6, 13.1, 13.2, 12.9, 12.2, 11.2, 10.1, 9.1, 8.2]
p57_lo = [2.2, 2.6, 3, 3.5, 4, 4.7, 5.2, 5.6, 5.9, 6, 6.1, 6.2, 6.3, 6.5, 7, 7.7, 8.4, 8.8, 8.9, 8.7, 8.2, 7.3, 6.3, 5.3, 4.5]
p57_hi = [10.5, 9.5, 8.8, 9, 10, 11, 11.6, 12, 12.3, 12.5, 12.7, 12.9, 13.2, 13.8, 15, 16.3, 17.5, 18.3, 18.5, 18.2, 17.5, 16.3, 14.8, 13.3, 12]

p58_pts = [0, 0, 8.6, 47.9, 68, 41.4, 10, 4, 1, 9, 47, 13.6]
p58_fit = [0.5, 0.5, 0.7, 1.2, 2.5, 6, 14, 28, 48, 66, 70, 58, 40, 24, 14, 8, 5.5, 4.8, 5.5, 8.5, 15, 24, 31, 29, 22]
p58_lo = [0, 0, 0, 0, 0.3, 1.2, 4, 10, 20, 30, 33, 27, 17, 9, 4.5, 2.5, 1.8, 1.7, 2.2, 3.5, 7, 12, 16, 15, 11]
p58_hi = [3, 2.5, 2.5, 3, 5, 11, 26, 50, 85, 115, 122, 102, 72, 45, 27, 17, 12, 11, 12.5, 17, 27, 38, 45, 42, 32]

p59_pts = [0, 0, 2, 4, 5, 2, 3, 1, 2, 3, 5, 3]
p59_fit = [1.5, 1.3, 1.2, 1.2, 1.3, 1.6, 2.0, 2.5, 2.9, 3.1, 3.0, 2.7, 2.4, 2.1, 1.9, 1.8, 1.8, 1.9, 2.2, 2.5, 2.7, 2.9, 3.0, 2.95, 2.75]
p59_lo = [0.5, 0.4, 0.4, 0.4, 0.5, 0.7, 1.0, 1.3, 1.5, 1.6, 1.5, 1.4, 1.2, 1.0, 0.9, 0.85, 0.85, 0.9, 1.05, 1.2, 1.35, 1.45, 1.5, 1.45, 1.3]
p59_hi = [3.4, 3.0, 2.6, 2.5, 2.7, 3.2, 3.8, 4.4, 4.9, 5.1, 5.0, 4.6, 4.1, 3.7, 3.5, 3.4, 3.5, 3.7, 4.0, 4.4, 4.7, 4.9, 4.9, 4.7, 4.5]

p60_pts = [0, 0, 0, 0, 0, 0, 0, 25, 23, 3.2, 0, 0]
p60_fit = [0.5, 0.5, 0.5, 0.5, 0.5, 0.5, 0.5, 0.5, 0.5, 0.5, 0.5, 0.6, 1, 3, 9, 22, 34, 35, 24, 10, 3, 1.2, 0.8, 0.7, 0.7]
p60_lo = [0, 0, 0, 0, 0, 0, 0, 0, 0, 0, 0, 0, 0.1, 0.5, 2, 8, 15, 16, 10, 3, 0.5, 0.1, 0, 0, 0]
p60_hi = [3, 3, 3, 3, 3, 3, 3, 3, 3, 3, 3, 3.5, 5, 10, 25, 52, 70, 68, 48, 22, 8, 4, 3, 3, 3]

p61_pts = [0, 0, 0.5, 15.3, 7.2, 8.8, 12.6, 10, 4.5, 2.5, 10.3, 1.5]
p61_fit = [0.7, 0.7, 0.7, 0.9, 1.4, 2.3, 3.5, 5, 6.7, 8.3, 9.8, 10.9, 11.4, 11.4, 11, 10, 8.8, 7.5, 6.4, 5.6, 5, 4.6, 4.1, 3.5, 2.8]
p61_lo = [0, 0, 0, 0, 0.1, 0.5, 1.3, 2.4, 3.6, 4.8, 5.7, 6.2, 6.4, 6.3, 5.9, 5.2, 4.3, 3.4, 2.7, 2.2, 1.9, 1.7, 1.4, 1.1, 0.8]
p61_hi = [4, 3.6, 3.3, 3.4, 4, 5, 7, 9.5, 12.5, 15.5, 18.2, 20.2, 21, 20.8, 20, 18.6, 17, 15.5, 14, 12.6, 11.4, 10.4, 9.4, 8, 6.5]

p62_pts = [0, 0, 5, 16.7, 18, 10.6, 8.2, 9.5, 7.4, 9, 12.1, 5]
p62_fit = [0.3, 0.3, 0.4, 0.8, 1.8, 3.7, 6.5, 10, 14, 16.5, 16.5, 14.6, 12.2, 10.5, 9.7, 9.5, 9.5, 9.6, 9.8, 9.9, 10, 9.9, 9.1, 7.5, 5.5]
p62_lo = [0, 0, 0, 0.1, 0.3, 1, 2.3, 4.5, 7, 9, 9, 7.5, 6, 5.2, 5, 5, 5, 5, 5, 5, 5, 4.8, 4.2, 3.2, 2.2]
p62_hi = [2, 1.8, 1.8, 2.5, 4, 7, 11.5, 17, 23, 28, 28.8, 26, 21, 17, 15, 14, 13.5, 13.5, 13.8, 14.2, 14.5, 14.6, 14, 12, 9]

p63_pts = [211, 173, 173, 398, 703, 717, 853, 769, 478, 506, 248, 234]
p63_fit = [210, 205, 195, 190, 192, 205, 240, 300, 385, 485, 590, 690, 770, 830, 840, 810, 750, 680, 600, 520, 445, 380, 320, 270, 230]
p63_lo = [120, 140, 150, 150, 155, 165, 190, 235, 300, 380, 470, 560, 630, 670, 670, 640, 580, 510, 440, 370, 310, 260, 220, 185, 160]
p63_hi = [390, 320, 270, 250, 245, 265, 300, 380, 490, 620, 760, 900, 1030, 1120, 1135, 1085, 990, 870, 750, 630, 520, 440, 375, 325, 300]

p64_pts = [16, 15.5, 13, 19, 11, 12, 8, 7, 14, 24, 17, 23]
p64_fit = [17, 17.4, 17.4, 17.2, 16.9, 16.5, 16, 15.3, 14.4, 13.3, 12.1, 11, 10.1, 9.7, 9.7, 10.3, 11.5, 13.2, 15, 16.7, 18.2, 19.3, 20.1, 20.5, 20.5]
p64_lo = [10.5, 11.5, 12.2, 12.5, 12.5, 12.2, 11.8, 11.2, 10.3, 9.2, 8.1, 7.2, 6.5, 6.2, 6.3, 6.8, 7.8, 9.2, 10.8, 12.3, 13.5, 14.3, 14.8, 15, 15]
p64_hi = [27.5, 26, 24.5, 23, 22.3, 21.8, 21.3, 20.6, 19.8, 18.7, 17.4, 16.1, 15, 14.5, 14.6, 15.5, 17, 19, 21, 23, 25, 26.7, 28, 29, 29.3]

p65_pts = [89, 80, 79, 112, 200, 200, 240, 256, 176, 165, 133, 124]
p65_fit = [110, 102, 94, 89, 88, 92, 102, 120, 146, 175, 200, 218, 228, 232, 231, 228, 222, 210, 193, 175, 158, 143, 130, 120, 113]
p65_lo = [55, 60, 62, 62, 63, 67, 75, 90, 110, 130, 150, 165, 172, 173, 170, 166, 160, 150, 137, 123, 110, 99, 90, 82, 75]
p65_hi = [195, 165, 140, 125, 118, 122, 135, 158, 190, 230, 268, 300, 318, 322, 320, 315, 305, 290, 268, 242, 215, 192, 175, 160, 148]

n_panels = 65
series = [tuple(globals()["p%02d_%s" % (i, s)] for s in ("pts", "fit", "lo", "hi"))
          for i in range(1, n_panels + 1)]

# ---------------------------------------------------------------- layout
W, H = 1865, 807
plt.rcParams['font.family'] = ['Liberation Sans', 'DejaVu Sans']
fig = plt.figure(figsize=(W / 100, H / 100), dpi=100)
fig.patch.set_facecolor('white')

col_left = [76.7, 280.0, 484.4, 683.5, 895.0, 1103.7, 1298.0, 1500.5, 1702.6]
panel_w, panel_h = 160.5, 88.3
row_top0, row_pitch = 11.0, 98.2
ncol = 9
color_of = dict(zip(countries, country_colors))
months = np.arange(1, 13)
x_half = np.arange(0.5, 12.51, 0.5)

TXT = '#4D4D4D'
DARK = '#333333'
GRID = '#E6E6E6'

for k in range(n_panels):
    r, c = divmod(k, ncol)
    top = row_top0 + r * row_pitch
    ax = fig.add_axes([col_left[c] / W, 1 - (top + panel_h) / H, panel_w / W, panel_h / H])
    pts, fit, lo, hi = (np.asarray(a, dtype=float) for a in series[k])
    col = color_of[panel_country[k]]

    ax.fill_between(x_half, lo, hi, color=col, alpha=0.2, linewidth=0, zorder=1)
    ax.plot(x_half, fit, color=col, lw=3.8, solid_capstyle='butt', solid_joinstyle='round', zorder=2)
    ax.plot(months, pts, 'o', color='black', ms=4.9, mec='none', zorder=3)

    vals = np.concatenate([pts[~np.isnan(pts)], lo, hi, [0.0]])
    vmin, vmax = vals.min(), vals.max()
    pad = 0.05 * (vmax - vmin)
    y0, y1 = vmin - pad, vmax + pad
    ax.set_ylim(y0, y1)
    ax.set_xlim(0, 13)

    step = panel_y_step[k]
    majors = np.arange(0, y1 + 1e-9, step)
    majors = majors[(majors >= y0) & (majors <= y1)]
    minors = np.arange(-step / 2, y1 + 1e-9, step)
    minors = minors[(minors >= y0) & (minors <= y1)]
    ax.set_yticks(majors)
    ax.set_yticks(minors, minor=True)
    if float(step).is_integer():
        ax.set_yticklabels(["%d" % v for v in majors])
    else:
        ax.set_yticklabels(["%.1f" % v for v in majors])

    ax.set_xticks(months)
    ax.set_xticks(x_half[::2], minor=True)

    ax.set_axisbelow(True)
    ax.grid(which='major', color=GRID, lw=1.1)
    ax.grid(which='minor', color=GRID, lw=0.7)

    ax.tick_params(axis='y', which='major', length=2.75, width=0.8, color=DARK,
                   labelcolor=TXT, labelsize=10, pad=2)
    ax.tick_params(which='minor', length=0)

    bottom_row = 7 if c < 2 else 6
    if r == bottom_row:
        ax.set_xticklabels(month_labels)
        ax.tick_params(axis='x', which='major', length=2.75, width=0.8, color=DARK,
                       labelcolor=TXT, labelsize=10, pad=2)
    else:
        ax.tick_params(axis='x', which='major', length=0, labelbottom=False)

    for sp in ax.spines.values():
        sp.set_color(DARK)
        sp.set_linewidth(1.2)

# y axis title
fig.text(19 / W, 1 - 397 / H, "Monthly Catch", rotation=90, ha='center', va='center',
         fontsize=14.5, color='black')

# legend (fill keys only)
leg_key_x = [1292, 1413.6, 1507.7, 1587.5, 1657.6, 1762.5]
key_w, key_h, key_cy = 26, 26, 765
for name, colr, kx in zip(countries, country_colors, leg_key_x):
    fig.add_artist(Rectangle((kx / W, 1 - (key_cy + key_h / 2) / H), key_w / W, key_h / H,
                             transform=fig.transFigure, facecolor=colr, alpha=0.2,
                             edgecolor='none'))
    fig.text((kx + key_w + 10) / W, 1 - key_cy / H, name, ha='left', va='center',
             fontsize=10.5, color='black')

fig.savefig('out.png', dpi=100)
